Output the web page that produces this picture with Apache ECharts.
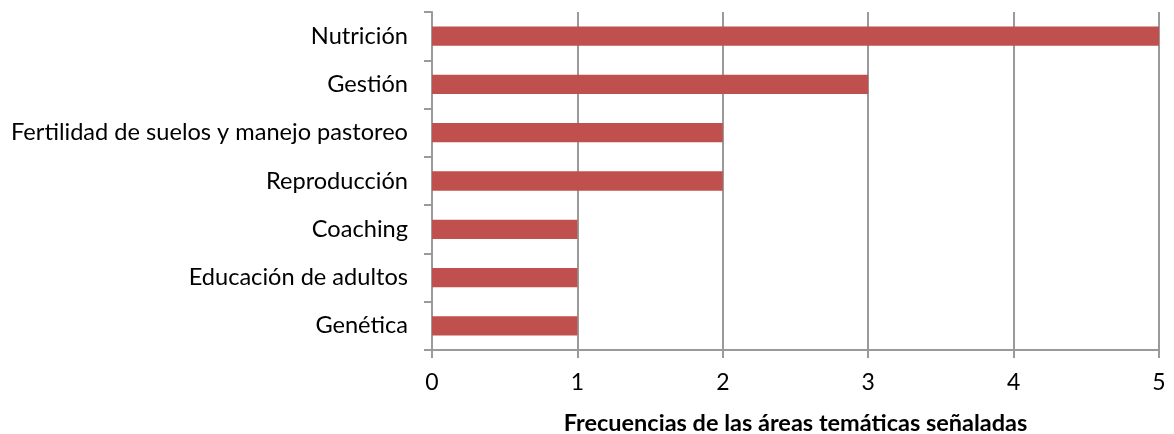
<!DOCTYPE html>
<html>
<head>
<meta charset="utf-8">
<script src="https://cdn.jsdelivr.net/npm/echarts@6/dist/echarts.min.js"></script>
<style>
  html, body { margin: 0; padding: 0; background: #fff; }
  #chart { width: 1174px; height: 434px; }
</style>
</head>
<body>
<div id="chart"></div>
<script>
// Thematic areas and how often each was mentioned
const categories = [
  'Nutrición',
  'Gestión',
  'Fertilidad de suelos y manejo pastoreo',
  'Reproducción',
  'Coaching',
  'Educación de adultos',
  'Genética'
];
const frequencies = [5, 3, 2, 2, 1, 1, 1];
const xTicks = [0, 1, 2, 3, 4, 5];

const axisGray = '#9a9a9a';
const font = 'Lato, "Open Sans", sans-serif';

const chart = echarts.init(document.getElementById('chart'));
chart.setOption({
  animation: false,
  grid: { left: 432, right: 15, top: 12, bottom: 84, containLabel: false, outerBoundsMode: 'none' },
  xAxis: {
    type: 'value',
    min: xTicks[0],
    max: xTicks[xTicks.length - 1],
    interval: 1,
    name: 'Frecuencias de las áreas temáticas señaladas',
    nameLocation: 'middle',
    nameGap: 61,
    nameTextStyle: { fontFamily: font, fontSize: 23.5, fontWeight: 'bold', color: '#000' },
    axisLine: { show: true, lineStyle: { color: axisGray, width: 2 } },
    axisTick: { show: true, length: 8, lineStyle: { color: axisGray, width: 2 } },
    axisLabel: { fontFamily: font, fontSize: 23, color: '#000', margin: 21 },
    splitLine: { show: true, lineStyle: { color: axisGray, width: 2 } }
  },
  yAxis: {
    type: 'category',
    data: categories,
    inverse: true,
    axisLine: { show: true, lineStyle: { color: axisGray, width: 2 } },
    axisTick: { show: true, length: 8, lineStyle: { color: axisGray, width: 2 } },
    axisLabel: { fontFamily: font, fontSize: 23.6, color: '#000', margin: 24, padding: [4, 0, 0, 0] },
    splitLine: { show: false }
  },
  series: [{
    type: 'bar',
    data: frequencies,
    barCategoryGap: '60%',
    itemStyle: { color: '#c0504d' }
  }]
});
</script>
</body>
</html>
